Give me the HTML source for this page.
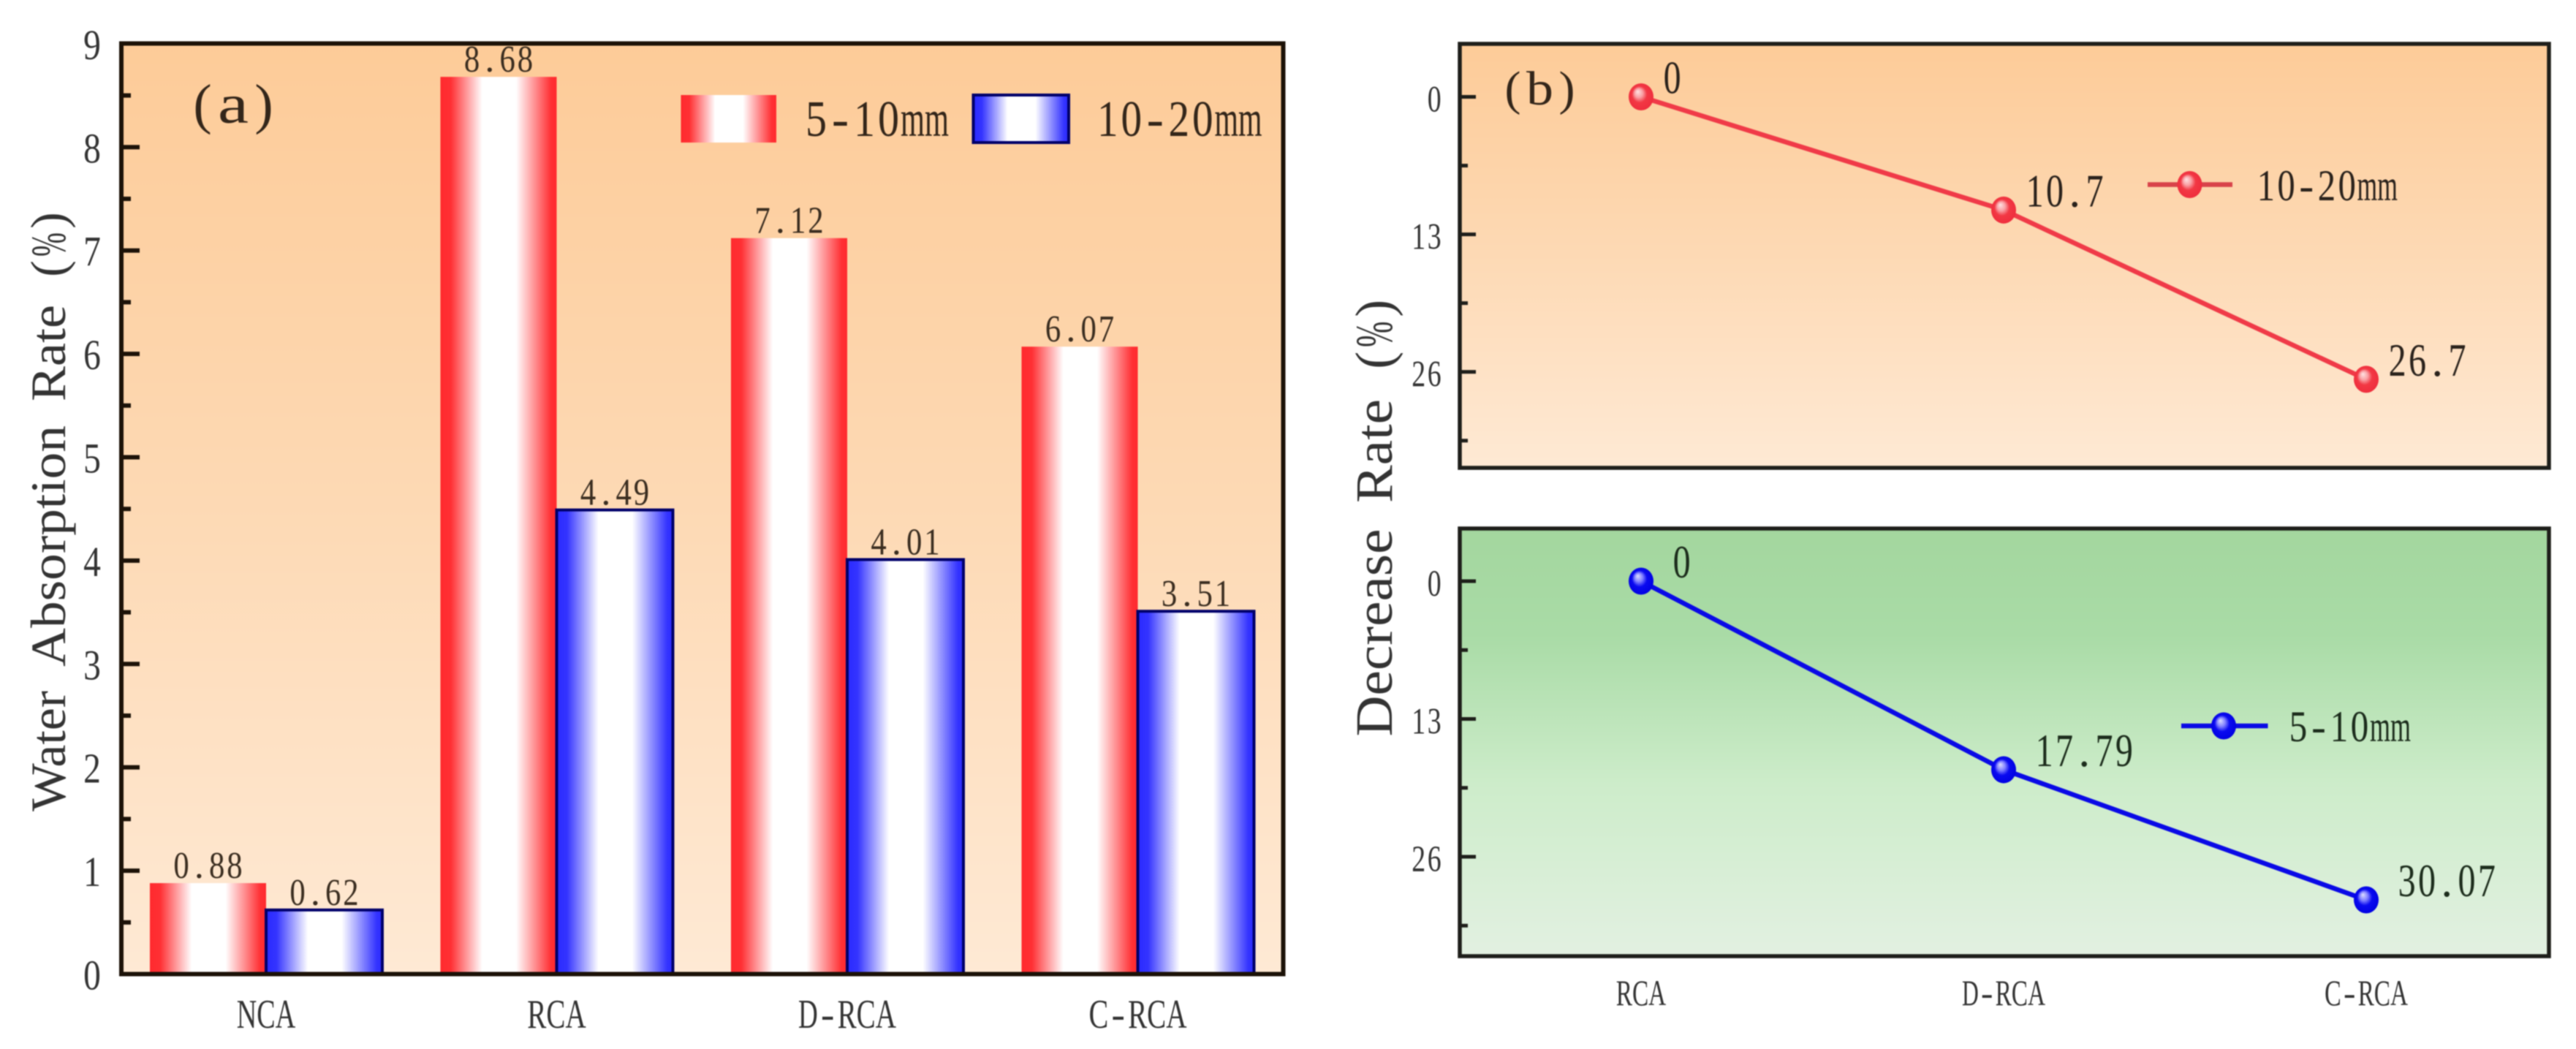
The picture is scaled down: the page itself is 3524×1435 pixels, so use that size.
<!DOCTYPE html>
<html>
<head>
<meta charset="utf-8">
<title>Water absorption and decrease rate charts</title>
<style>
html,body{margin:0;padding:0;background:#fff;width:3524px;height:1435px;overflow:hidden}
svg{position:absolute;left:0;top:0;display:block;filter:blur(0.8px)}
text{font-family:"Liberation Serif","Noto Serif CJK SC",serif;text-anchor:middle;white-space:pre}
</style>
</head>
<body>
<svg id="figure" xmlns="http://www.w3.org/2000/svg" width="3524" height="1435" viewBox="0 0 3524 1435">
<rect x="0" y="0" width="3524" height="1435" fill="#fff"/>
<defs>
<linearGradient id="bgOrange" x1="0" y1="0" x2="0" y2="1"><stop offset="0" stop-color="#fdcb98"/><stop offset="0.5" stop-color="#fdd9b4"/><stop offset="1" stop-color="#fee9d4"/></linearGradient>
<linearGradient id="bgGreen" x1="0" y1="0" x2="0" y2="1"><stop offset="0" stop-color="#a3d69e"/><stop offset="0.25" stop-color="#a9dba6"/><stop offset="0.6" stop-color="#cdecca"/><stop offset="1" stop-color="#e2f0e1"/></linearGradient>
<linearGradient id="barRed" x1="0" y1="0" x2="1" y2="0"><stop offset="0" stop-color="#ff2a2e"/><stop offset="0.09" stop-color="#ff3034"/><stop offset="0.36" stop-color="#fff"/><stop offset="0.65" stop-color="#fff"/><stop offset="0.95" stop-color="#ff3034"/><stop offset="1" stop-color="#ff2a2e"/></linearGradient>
<linearGradient id="barBlue" x1="0" y1="0" x2="1" y2="0"><stop offset="0" stop-color="#2a2aff"/><stop offset="0.09" stop-color="#3434ff"/><stop offset="0.36" stop-color="#fff"/><stop offset="0.65" stop-color="#fff"/><stop offset="0.95" stop-color="#3434ff"/><stop offset="1" stop-color="#2a2aff"/></linearGradient>
<radialGradient id="ballRed" cx="0.5" cy="0.5" r="0.55" fx="0.36" fy="0.3"><stop offset="0" stop-color="#ffe4e4"/><stop offset="0.3" stop-color="#f9a0a4"/><stop offset="0.55" stop-color="#f23844"/><stop offset="1" stop-color="#ee2c3c"/></radialGradient>
<radialGradient id="ballBlue" cx="0.5" cy="0.5" r="0.55" fx="0.36" fy="0.3"><stop offset="0" stop-color="#dfe0ff"/><stop offset="0.3" stop-color="#8080ff"/><stop offset="0.55" stop-color="#0a0af0"/><stop offset="1" stop-color="#0000e0"/></radialGradient>
</defs>
</svg>
<script>
var categoriesA = ['NCA', 'RCA', 'D-RCA', 'C-RCA'];
var values5to10 = [0.88, 8.68, 7.12, 6.07];
var values10to20 = [0.62, 4.49, 4.01, 3.51];
var yTicksA = [0, 1, 2, 3, 4, 5, 6, 7, 8, 9];
var categoriesB = ['RCA', 'D-RCA', 'C-RCA'];
var decrease10to20 = [0, 10.7, 26.7];
var decrease5to10 = [0, 17.79, 30.07];
var yTicksB = [0, 13, 26];

var NS = 'http://www.w3.org/2000/svg';
var svg = document.getElementById('figure');

/* axis functions */
function xA(i) { return 364 + i * 397.5; }
function yA(v) { return 1332.5 - v * 141.4; }
function xB(i) { return 2245 + i * 496; }
function yUpper(v) { return 132.5 + v * 14.47; }
function yLower(v) { return 795 + v * 14.5; }

function make(tag, attrs, parent) {
  var e = document.createElementNS(NS, tag);
  for (var k in attrs) e.setAttribute(k, attrs[k]);
  (parent || svg).appendChild(e);
  return e;
}

/* half-width cell text layout: every character occupies one cell of width cw */
function cells(str, startX, y, cw, fs, color, parent, transform) {
  var attrs = { y: y, 'font-size': fs, fill: color };
  if (transform) attrs.transform = transform;
  var t = make('text', attrs, parent);
  var re = /[0-9.\-()]|\s|[^0-9.\-()\s]+/g, m, pos = 0;
  while ((m = re.exec(str))) {
    var run = m[0];
    var sp = document.createElementNS(NS, 'tspan');
    sp.setAttribute('x', startX + (pos + run.length / 2) * cw);
    sp.textContent = run;
    if (/[^0-9.\-()\s]/.test(run)) {
      sp.setAttribute('textLength', run.length * cw);
      sp.setAttribute('lengthAdjust', 'spacingAndGlyphs');
    } else if (/[0-9]/.test(run)) {
      sp.setAttribute('textLength', cw * 0.88);
      sp.setAttribute('lengthAdjust', 'spacingAndGlyphs');
    }
    t.appendChild(sp);
    pos += run.length;
  }
  return t;
}
function centered(str, cx, y, cw, fs, color, parent) {
  return cells(str, cx - str.length * cw / 2, y, cw, fs, color, parent);
}

var el;
/* ---------- panel (a) ---------- */
var panelA = make('g', {});



el = make('rect', { x: 166, y: 59.5, width: 1589.5, height: 1273, fill: 'url(#bgOrange)' }, panelA);



var barWidth = 159;
categoriesA.forEach(function (c, i) {
  var top1 = yA(values5to10[i]);
  var bar1 = make('rect', { x: xA(i) - barWidth, y: top1, width: barWidth, height: yA(0) - top1, fill: 'url(#barRed)' }, panelA);
  
  
  var top2 = yA(values10to20[i]);
  var bar2 = make('rect', { x: xA(i), y: top2, width: barWidth, height: yA(0) - top2, fill: 'url(#barBlue)', stroke: '#00006a', 'stroke-width': 4 }, panelA);
  
  
  var lab1 = centered(String(values5to10[i]), xA(i) - barWidth / 2, top1 - 7, 24.3, 52, '#3a2d20', panelA);
  
  
  var lab2 = centered(String(values10to20[i]), xA(i) + barWidth / 2, top2 - 7, 24.3, 52, '#3a2d20', panelA);
  
  
  var cat = centered(c, xA(i), 1406, 26.8, 56, '#333', panelA);
  
  
});

el = make('rect', { x: 166, y: 59.5, width: 1589.5, height: 1273, fill: 'none', stroke: '#1c1208', 'stroke-width': 6 }, panelA);



yTicksA.forEach(function (v, i) {
  if (i > 0 && i < yTicksA.length - 1) {
    var maj = make('rect', { x: 166, y: yA(v) - 3, width: 25, height: 6, fill: '#1c1208' }, panelA);
    
    
  }
  if (i < yTicksA.length - 1) {
    var min = make('rect', { x: 166, y: yA((v + yTicksA[i + 1]) / 2) - 3, width: 13, height: 6, fill: '#1c1208' }, panelA);
    
    
  }
  var s = String(v);
  var lab = cells(s, 139.5 - s.length * 27, yA(v) + 21, 27, 58, '#333', panelA);
  
  
});

el = cells('Water Absorption Rate (%)', 0, 0, 33, 68, '#333', panelA, 'translate(89,1110) rotate(-90)');



el = cells('(a)', 256, 168, 42, 76, '#33261a', panelA);



el = make('rect', { x: 931.5, y: 130, width: 130.5, height: 65, fill: 'url(#barRed)' }, panelA);


el = cells('5-10mm', 1100, 186, 33, 70, '#33261a', panelA);


el = make('rect', { x: 1331.5, y: 130, width: 130.5, height: 65, fill: 'url(#barBlue)', stroke: '#00006a', 'stroke-width': 4 }, panelA);


el = cells('10-20mm', 1499, 186, 32.5, 70, '#33261a', panelA);



/* ---------- panel (b) ---------- */
function linePanel(group, top, bottom, bg, yFn, values, lineColor, ball, textColor, labelDx) {
  var bgRect = make('rect', { x: 1997, y: top, width: 1490, height: bottom - top, fill: bg }, group);
  
  

  var d = values.map(function (v, i) { return (i ? 'L' : 'M') + xB(i) + ' ' + yFn(v); }).join(' ');
  var path = make('path', { d: d, fill: 'none', stroke: lineColor, 'stroke-width': 6.5 }, group);
  
  

  values.forEach(function (v, i) {
    var pt = make('ellipse', { cx: xB(i), cy: yFn(v), rx: 17, ry: 18.5, fill: ball }, group);
    
    
    var lab = cells(String(v), xB(i) + labelDx, yFn(v) - 5, 27.3, 63, textColor, group);
    
    
  });

  var frame = make('rect', { x: 1997, y: top, width: 1490, height: bottom - top, fill: 'none', stroke: '#1e1e1a', 'stroke-width': 5.5 }, group);
  
  

  yTicksB.forEach(function (v, i) {
    var maj = make('rect', { x: 1997, y: yFn(v) - 2.5, width: 22, height: 5, fill: '#1e1e1a' }, group);
    
    
    var step = yTicksB[1] - yTicksB[0];
    var min = make('rect', { x: 1997, y: yFn(v + step / 2) - 2.5, width: 11, height: 5, fill: '#1e1e1a' }, group);
    
    
    var s = String(v);
    var lab = cells(s, 1973 - s.length * 21.5, yFn(v) + 20, 21.5, 51, '#333', group);
    
    
  });
}

var panelUpper = make('g', {});


linePanel(panelUpper, 60, 640, 'url(#bgOrange)', yUpper, decrease10to20, '#f03a48', 'url(#ballRed)', '#2a221c', 29);

var panelLower = make('g', {});


linePanel(panelLower, 723, 1308, 'url(#bgGreen)', yLower, decrease5to10, '#0a0ae6', 'url(#ballBlue)', '#1c2c1c', 42);

categoriesB.forEach(function (c, i) {
  var lab = centered(c, xB(i), 1375, 22.8, 50, '#333');
  
  
});

el = cells('(b)', 2051, 143, 37, 66, '#33261a', panelUpper);



el = cells('Decrease Rate (%)', 0, 0, 35.5, 72, '#333', null, 'translate(1904,1007.5) rotate(-90)');



/* line legends */
el = make('line', { x1: 2938, y1: 252.5, x2: 3054, y2: 252.5, stroke: '#d8434a', 'stroke-width': 6.5 }, panelUpper);


el = make('ellipse', { cx: 2995.5, cy: 252.5, rx: 17, ry: 18.5, fill: 'url(#ballRed)' }, panelUpper);


el = cells('10-20mm', 3086, 274, 27.7, 60, '#2a221c', panelUpper);



el = make('line', { x1: 2984, y1: 993, x2: 3102.5, y2: 993, stroke: '#0a0ae6', 'stroke-width': 6.5 }, panelLower);


el = make('ellipse', { cx: 3042, cy: 993, rx: 17, ry: 18.5, fill: 'url(#ballBlue)' }, panelLower);


el = cells('5-10mm', 3130, 1014, 28, 60, '#1c2c1c', panelLower);


</script>
</body>
</html>
